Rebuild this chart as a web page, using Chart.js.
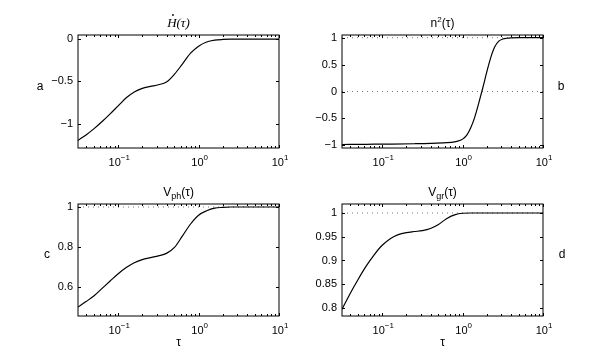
<!DOCTYPE html>
<html>
<head>
<meta charset="utf-8">
<script src="https://cdn.jsdelivr.net/npm/chart.js@4.4.0/dist/chart.umd.min.js"></script>
<style>
  body { margin: 0; background: #fff; }
  #fig { position: relative; width: 599px; height: 357px; background: #fff; }
  canvas { position: absolute; }
</style>
</head>
<body>
<div id="fig">
  <canvas id="chartA" width="300" height="178" style="left:0px;top:0px"></canvas>
  <canvas id="chartB" width="299" height="178" style="left:300px;top:0px"></canvas>
  <canvas id="chartC" width="300" height="179" style="left:0px;top:178px"></canvas>
  <canvas id="chartD" width="299" height="179" style="left:300px;top:178px"></canvas>
</div>
<script>
// ===============================
// DATA
// ===============================
const tau = [0.03162, 0.03981, 0.05012, 0.06310, 0.07943, 0.1, 0.1259, 0.1585, 0.1995, 0.2512,
             0.3162, 0.3981, 0.5012, 0.6310, 0.7943, 1, 1.259, 1.585, 1.995, 2.512,
             3.162, 3.981, 5.012, 6.310, 7.943, 10];

const hDot = [-1.20, -1.135, -1.06, -0.976, -0.885, -0.79, -0.695, -0.625, -0.583, -0.560,
              -0.540, -0.508, -0.415, -0.292, -0.166, -0.083, -0.033, -0.011, -0.003, 0,
              0, 0, 0, 0, 0, 0];

const vPh = [0.50, 0.527, 0.556, 0.593, 0.630, 0.666, 0.697, 0.721, 0.737, 0.747,
             0.756, 0.768, 0.798, 0.856, 0.915, 0.959, 0.981, 0.994, 0.998, 1,
             1, 1, 1, 1, 1, 1];

const vGr = [0.797, 0.830, 0.860, 0.888, 0.912, 0.932, 0.946, 0.9545, 0.9588, 0.961,
             0.963, 0.9675, 0.976, 0.988, 0.996, 0.9995, 1, 1, 1, 1,
             1, 1, 1, 1, 1, 1];

const tauN = [0.03162, 0.06310, 0.1259, 0.2512, 0.3981, 0.6310, 0.7943, 0.8913, 1, 1.122,
              1.259, 1.413, 1.585, 1.778, 1.995, 2.239, 2.512, 2.818, 3.162, 3.548,
              3.981, 5.012, 7.079, 10];

const nSq = [-0.985, -0.981, -0.977, -0.971, -0.964, -0.950, -0.935, -0.918, -0.885, -0.815,
             -0.68, -0.48, -0.22, 0.06, 0.36, 0.63, 0.83, 0.935, 0.975, 0.99,
             0.997, 1, 1, 1];

// tick labels
const xTicks = [0.1, 1, 10];
const yTicksA = [-1, -0.5, 0];
const yTicksB = [-1, -0.5, 0, 0.5, 1];
const yTicksC = [0.6, 0.8, 1];
const yTicksD = [0.8, 0.85, 0.9, 0.95, 1];

// dotted reference levels
const refB = [1, 0];
const refC = [1];
const refD = [1];

const X_MIN = 0.03162;
const X_MAX = 10;

// ===============================
// FONTS / HELPERS
// ===============================
const SANS = '"Liberation Sans", Arial, Helvetica, sans-serif';
const SERIF = '"Liberation Serif", "DejaVu Serif", serif';

function fmtY(v) {
    const s = String(Math.abs(v));
    return v < 0 ? '\u2212' + s : s;
}

// draw text pieces (with sub/superscripts) centred on cx
function drawRich(ctx, parts, cx, y) {
    let total = 0;
    parts.forEach(p => {
        ctx.font = p.font;
        total += ctx.measureText(p.t).width;
    });
    let x = cx - total / 2;
    ctx.textAlign = 'left';
    parts.forEach(p => {
        ctx.font = p.font;
        const w = ctx.measureText(p.t).width;
        ctx.fillText(p.t, x, y + (p.dy || 0));
        if (p.dot) {
            // overdot (time derivative)
            ctx.beginPath();
            ctx.arc(x + w * 0.62, y - 12, 0.9, 0, Math.PI * 2);
            ctx.fill();
        }
        x += w;
    });
}

// ===============================
// MATLAB STYLE AXES PLUGIN
// ===============================
const matlabAxes = {
    id: 'matlabAxes',
    afterDraw(chart, args, opts) {
        const ctx = chart.ctx;
        const a = chart.chartArea;
        const xs = chart.scales.x;
        const ys = chart.scales.y;

        ctx.save();
        ctx.strokeStyle = '#000';
        ctx.lineWidth = 1;
        ctx.strokeRect(a.left, a.top, a.right - a.left, a.bottom - a.top);

        // inward ticks, log minor ticks on x
        ctx.beginPath();
        for (let e = -2; e <= 1; e++) {
            for (let m = 1; m <= 9; m++) {
                const v = m * Math.pow(10, e);
                if (v < xs.min * 0.999 || v > xs.max * 1.001) continue;
                const px = Math.round(xs.getPixelForValue(v)) + 0.5;
                const len = m === 1 ? 3 : 2;
                ctx.moveTo(px, a.bottom); ctx.lineTo(px, a.bottom - len);
                ctx.moveTo(px, a.top); ctx.lineTo(px, a.top + len);
            }
        }
        ys.ticks.forEach(t => {
            const py = Math.round(ys.getPixelForValue(t.value)) + 0.5;
            ctx.moveTo(a.left, py); ctx.lineTo(a.left + 3, py);
            ctx.moveTo(a.right, py); ctx.lineTo(a.right - 3, py);
        });
        ctx.stroke();

        ctx.fillStyle = '#000';
        ctx.textBaseline = 'alphabetic';

        // x tick labels 10^n
        xs.ticks.forEach(t => {
            const ex = Math.round(Math.log10(t.value));
            const exs = ex < 0 ? '\u2212' + Math.abs(ex) : String(ex);
            drawRich(ctx, [
                { t: '10', font: '11px ' + SANS },
                { t: exs, font: '8px ' + SANS, dy: -6 }
            ], xs.getPixelForValue(t.value) + 1, a.bottom + 18);
        });

        // title
        if (opts.title) {
            drawRich(ctx, opts.title, (a.left + a.right) / 2, a.top - 8);
        }

        // x label
        if (opts.xlabel) {
            ctx.font = '12px ' + SANS;
            ctx.textAlign = 'center';
            ctx.textBaseline = 'middle';
            ctx.fillText(opts.xlabel, (a.left + a.right) / 2, a.bottom + 27);
        }

        // side letter
        if (opts.side) {
            ctx.font = '12px ' + SANS;
            ctx.textAlign = 'center';
            ctx.textBaseline = 'middle';
            const x = opts.sideOnRight ? a.right + opts.sideGap : a.left - opts.sideGap;
            ctx.fillText(opts.side, x, (a.top + a.bottom) / 2 - 5);
        }
        ctx.restore();
    }
};

// ===============================
// CHART BUILDER
// ===============================
function makePanel(id, p) {
    const datasets = [{
        data: p.xs.map((t, i) => ({ x: t, y: p.ys[i] })),
        borderColor: '#000',
        borderWidth: 1.2,
        pointRadius: 0,
        fill: false,
        cubicInterpolationMode: 'monotone'
    }];
    (p.refs || []).forEach(r => {
        datasets.push({
            data: [{ x: X_MIN, y: r }, { x: X_MAX, y: r }],
            borderColor: '#777',
            borderWidth: 1,
            borderDash: [1, 4],
            pointRadius: 0,
            fill: false
        });
    });

    return new Chart(document.getElementById(id), {
        type: 'line',
        data: { datasets: datasets },
        options: {
            responsive: false,
            animation: false,
            devicePixelRatio: 1,
            layout: { autoPadding: false, padding: p.padding },
            plugins: {
                legend: { display: false },
                tooltip: { enabled: false },
                matlabAxes: p.deco
            },
            scales: {
                x: {
                    type: 'logarithmic',
                    min: X_MIN,
                    max: X_MAX,
                    afterBuildTicks: s => { s.ticks = xTicks.map(v => ({ value: v })); },
                    afterFit: s => { s.height = p.xh; },
                    ticks: { display: false },
                    grid: { display: false, drawTicks: false },
                    border: { display: false }
                },
                y: {
                    type: 'linear',
                    min: p.ymin,
                    max: p.ymax,
                    afterBuildTicks: s => { s.ticks = p.yticks.map(v => ({ value: v })); },
                    afterFit: s => { s.width = p.yw; },
                    ticks: {
                        callback: v => fmtY(v),
                        color: '#000',
                        font: { family: SANS, size: 11 },
                        padding: 5
                    },
                    grid: { display: false, drawTicks: false },
                    border: { display: false }
                }
            }
        },
        plugins: [matlabAxes]
    });
}

// ===============================
// PANELS
// ===============================
makePanel('chartA', {
    xs: tau, ys: hDot, refs: [],
    ymin: -1.29, ymax: 0.05, yticks: yTicksA,
    yw: 78, xh: 30, padding: { left: 0, right: 21, top: 35, bottom: 0 },
    deco: {
        title: [
            { t: 'H', font: 'italic 13px ' + SERIF, dot: true },
            { t: '(\u03C4)', font: 'italic 13px ' + SERIF }
        ],
        side: 'a', sideGap: 38
    }
});

makePanel('chartB', {
    xs: tauN, ys: nSq, refs: refB,
    ymin: -1.05, ymax: 1.05, yticks: yTicksB,
    yw: 42, xh: 30, padding: { left: 0, right: 56, top: 35, bottom: 0 },
    deco: {
        title: [
            { t: 'n', font: '12px ' + SANS },
            { t: '2', font: '8px ' + SANS, dy: -5 },
            { t: '(\u03C4)', font: '12px ' + SANS }
        ],
        side: 'b', sideGap: 18, sideOnRight: true
    }
});

makePanel('chartC', {
    xs: tau, ys: vPh, refs: refC,
    ymin: 0.455, ymax: 1.015, yticks: yTicksC,
    yw: 78, xh: 41, padding: { left: 0, right: 21, top: 26, bottom: 0 },
    deco: {
        title: [
            { t: 'V', font: '12px ' + SANS },
            { t: 'ph', font: '9px ' + SANS, dy: 3 },
            { t: '(\u03C4)', font: '12px ' + SANS }
        ],
        xlabel: '\u03C4',
        side: 'c', sideGap: 31
    }
});

makePanel('chartD', {
    xs: tau, ys: vGr, refs: refD,
    ymin: 0.783, ymax: 1.019, yticks: yTicksD,
    yw: 42, xh: 41, padding: { left: 0, right: 56, top: 26, bottom: 0 },
    deco: {
        title: [
            { t: 'V', font: '12px ' + SANS },
            { t: 'gr', font: '9px ' + SANS, dy: 3 },
            { t: '(\u03C4)', font: '12px ' + SANS }
        ],
        xlabel: '\u03C4',
        side: 'd', sideGap: 19, sideOnRight: true
    }
});
</script>
</body>
</html>
